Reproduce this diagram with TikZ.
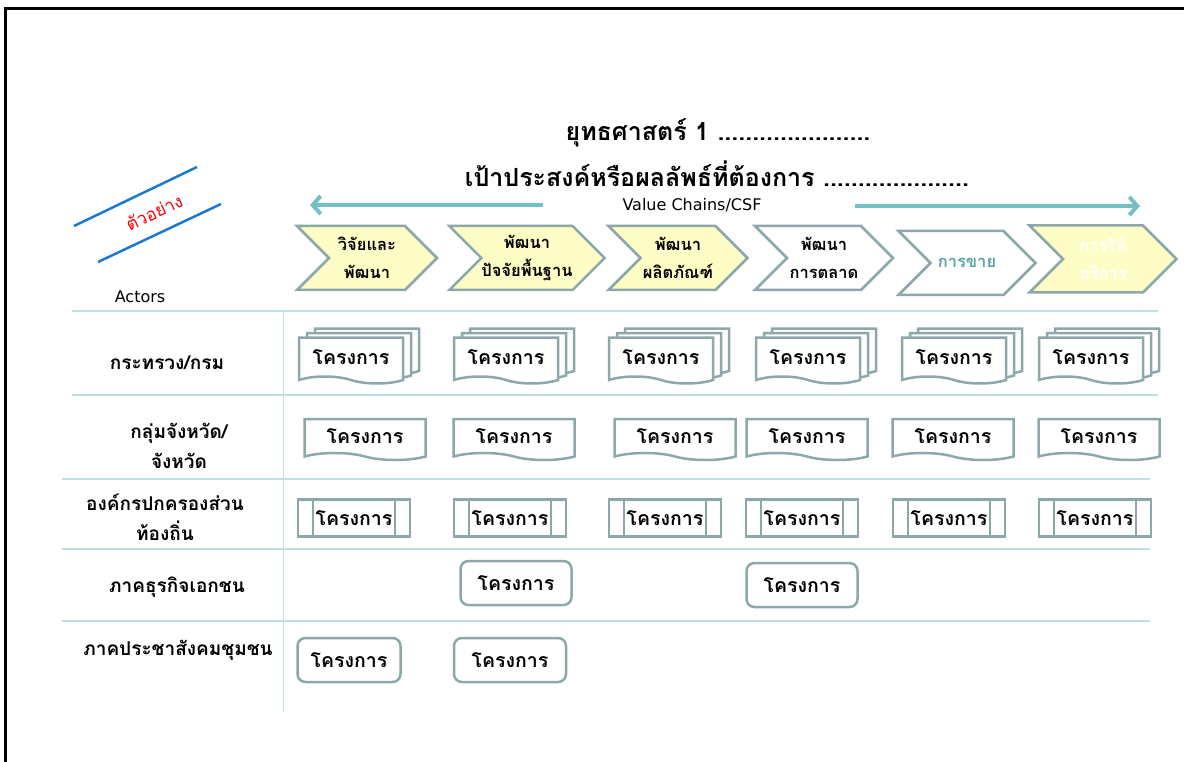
\documentclass[tikz,border=0pt]{standalone}
\usepackage{fontspec}
\setmainfont[Script=Thai]{Loma}
\newfontfamily\latinsans{DejaVu Sans}
\usetikzlibrary{positioning,shapes,shapes.symbols,shadows,arrows.meta}
\definecolor{chainteal}{HTML}{74C0C6}
\definecolor{boxgray}{HTML}{8DA8AB}
\definecolor{paleyellow}{HTML}{FFFDC6}
\definecolor{gridline}{HTML}{BFE1E6}
\definecolor{sampleblue}{HTML}{1E78CF}
\definecolor{sellteal}{HTML}{5AA3AA}

\begin{document}
\begin{tikzpicture}[x=1pt, y=-1pt,
    every node/.style={inner sep=0pt, align=center},
    boxtext/.style={font=\bfseries\fontsize{19.5}{22}\selectfont},
    chevron/.style={signal, signal from=west, signal to=east, signal pointer angle=90,
      draw=boxgray, line width=2.5pt, minimum height=64pt,
      font=\bfseries\fontsize{16.5}{28}\selectfont},
    doc/.style={boxtext, tape, tape bend top=none, tape bend bottom=out and in,
      tape bend height=7pt, draw=boxgray, fill=white, line width=2.5pt},
    stackdoc/.style={doc, minimum width=104pt, minimum height=46pt,
      double copy shadow={shadow xshift=8pt, shadow yshift=4.5pt,
        draw=boxgray, fill=white, line width=2.5pt}},
    onedoc/.style={doc, minimum width=121pt, minimum height=41pt},
    subproc/.style={boxtext, rectangle, draw=boxgray, line width=2.5pt,
      minimum width=112pt, minimum height=37pt,
      path picture={\draw[boxgray, line width=2.5pt]
        ([xshift=15pt]path picture bounding box.north west) -- ([xshift=15pt]path picture bounding box.south west)
        ([xshift=-15pt]path picture bounding box.north east) -- ([xshift=-15pt]path picture bounding box.south east);}},
    roundbox/.style={boxtext, rectangle, rounded corners=8pt, draw=boxgray,
      line width=2.5pt, minimum height=44pt},
    actor/.style={font=\bfseries\fontsize{19}{30}\selectfont},
    chainarrow/.style={chainteal, line width=4pt, -{Straight Barb[length=8pt, width=18pt]}}
  ]
  \useasboundingbox (0,0) rectangle (1184,762);
  % frame
  \draw[line width=3pt] (1184,9) -- (5,9) -- (5,762);

  % headings
  \node[font=\bfseries\fontsize{25}{30}\selectfont] (strategy) at (718,133) {ยุทธศาสตร์ 1 ......................};
  \node[font=\bfseries\fontsize{25}{30}\selectfont] (goal) at (717,174) {เป้าประสงค์หรือผลลัพธ์ที่ต้องการ .....................};
  \node[font=\latinsans\fontsize{16}{18}\selectfont] (vc) at (692,205) {Value Chains/CSF};
  \coordinate (vcl) at (310,205);
  \coordinate (vcr) at (1140,206);
  \draw[chainarrow] (543,205) -- (vcl);
  \draw[chainarrow] (855,206) -- (vcr);

  % sample stamp
  \draw[sampleblue, line width=2.5pt] (74,226) -- (197,167);
  \draw[sampleblue, line width=2.5pt] (98,262) -- (221,204);
  \node[red, rotate=25, font=\fontsize{17.5}{20}\selectfont] (sample) at (154,212) {ตัวอย่าง};
  \node[font=\latinsans\fontsize{16}{18}\selectfont] (actors) at (140,297) {Actors};

  % value chain steps
  \node[chevron, fill=paleyellow, minimum width=140pt] (c1) at (367,258) {วิจัยและ\\พัฒนา};
  \node[chevron, fill=paleyellow, minimum width=149pt] (c2) at (527,258) {พัฒนา\\ปัจจัยพื้นฐาน};
  \node[chevron, fill=paleyellow, minimum width=139pt] (c3) at (678,258) {พัฒนา\\ผลิตภัณฑ์};
  \node[chevron, fill=white, minimum width=138pt] (c4) at (824,258) {พัฒนา\\การตลาด};
  \node[chevron, fill=white, minimum width=137pt, text=sellteal] (c5) at (967,263) {การขาย};
  \node[chevron, fill=paleyellow, minimum width=147pt, minimum height=67pt, text=white] (c6) at (1103,259) {การให้\\บริการ};

  % grid
  \draw[gridline, line width=2pt] (72,311) -- (1158,311) (72,395) -- (1158,395)
    (62,479) -- (1150,479) (62,549) -- (1150,549) (62,621) -- (1150,621);
  \draw[gridline, line width=1pt] (283,311) -- (283,712);

  % actors
  \node[actor] (a1) at (167,363) {กระทรวง/กรม};
  \node[actor] (a2) at (179,446) {กลุ่มจังหวัด/\\จังหวัด};
  \node[actor] (a3) at (165,517) {องค์กรปกครองส่วน\\ท้องถิ่น};
  \node[actor] (a4) at (177,587) {ภาคธุรกิจเอกชน};
  \node[actor] (a5) at (178,650) {ภาคประชาสังคมชุมชน};

  % projects
  \foreach \x [count=\i] in {351,506,661,808,954,1091}
    \node[stackdoc] (m\i) at (\x,357) {โครงการ};
  \foreach \x [count=\i] in {365,514,675,807,953,1099}
    \node[onedoc] (p\i) at (\x,436) {โครงการ};
  \foreach \x [count=\i] in {354,510,665,802,949,1095}
    \node[subproc] (l\i) at (\x,518) {โครงการ};
  \node[roundbox, minimum width=111pt] (b1) at (516,583) {โครงการ};
  \node[roundbox, minimum width=111pt] (b2) at (802,585) {โครงการ};
  \node[roundbox, minimum width=103pt] (s1) at (349,660) {โครงการ};
  \node[roundbox, minimum width=112pt] (s2) at (510,660) {โครงการ};
\end{tikzpicture}
\end{document}
